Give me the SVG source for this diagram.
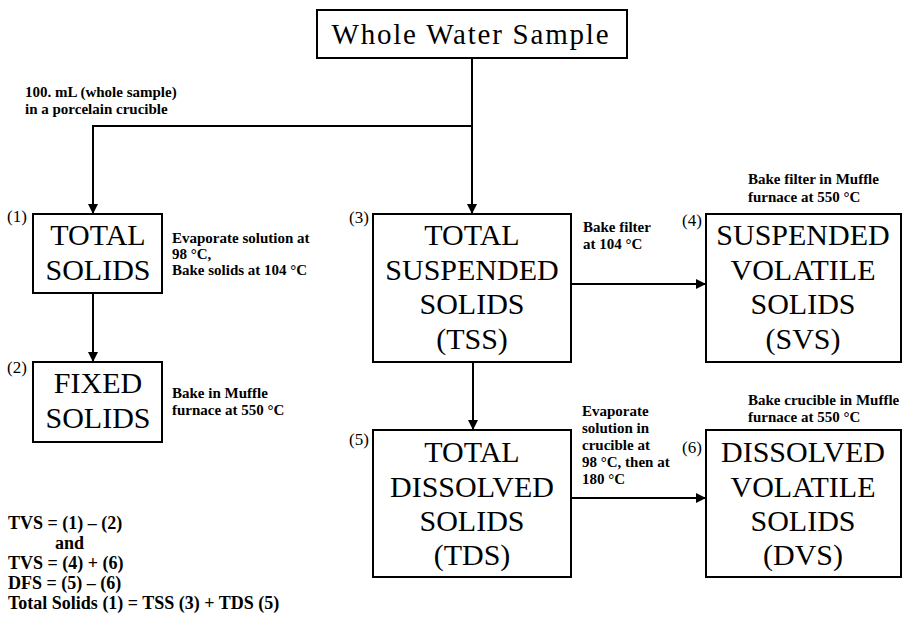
<svg xmlns="http://www.w3.org/2000/svg" width="903" height="617" viewBox="0 0 903 617">
  <style>
    .box { fill: #ffffff; stroke: #000000; stroke-width: 2; }
    .node { font-family: "Liberation Serif", "Times New Roman", serif; font-size: 30px; fill: #000000; text-anchor: middle; }
    .title { font-family: "Liberation Serif", "Times New Roman", serif; font-size: 29px; fill: #000000; text-anchor: middle; }
    .num { font-family: "Liberation Serif", "Times New Roman", serif; font-size: 17px; fill: #000000; }
    .note { font-family: "Liberation Serif", "Times New Roman", serif; font-size: 15px; font-weight: bold; fill: #000000; }
    .eq { font-family: "Liberation Serif", "Times New Roman", serif; font-size: 18px; font-weight: bold; fill: #000000; }
    .wire { fill: none; stroke: #000000; stroke-width: 2; }
  </style>
  <defs>
    <marker id="head" markerUnits="userSpaceOnUse" markerWidth="10" markerHeight="10" refX="10" refY="5" orient="auto">
      <path d="M0,0 L10,5 L0,10 z" fill="#000000"/>
    </marker>
  </defs>

  <rect width="903" height="617" fill="#ffffff"/>

  <!-- connectors -->
  <g id="connectors">
    <path class="wire" d="M472,58 V214" marker-end="url(#head)"/>
    <path class="wire" d="M472,126 H93 V214" marker-end="url(#head)"/>
    <path class="wire" d="M93,293 V362" stroke-width="2.5" marker-end="url(#head)"/>
    <path class="wire" d="M473,362 V430" marker-end="url(#head)"/>
    <path class="wire" d="M571,284 H706" marker-end="url(#head)"/>
    <path class="wire" d="M571,498 H706" marker-end="url(#head)"/>
  </g>

  <!-- process notes -->
  <g id="notes">
    <text class="note" x="25" y="97">100. mL (whole sample)</text>
    <text class="note" x="25" y="114">in a porcelain crucible</text>
    <text class="note" x="172" y="243">Evaporate solution at</text>
    <text class="note" x="172" y="259">98 °C,</text>
    <text class="note" x="172" y="275">Bake solids at  104 °C</text>
    <text class="note" x="172" y="398">Bake in Muffle</text>
    <text class="note" x="172" y="415">furnace at 550 °C</text>
    <text class="note" x="583" y="232">Bake filter</text>
    <text class="note" x="583" y="249">at 104 °C</text>
    <text class="note" x="748" y="184">Bake filter in Muffle</text>
    <text class="note" x="748" y="202">furnace at 550 °C</text>
    <text class="note" x="582" y="416">Evaporate</text>
    <text class="note" x="582" y="433">solution in</text>
    <text class="note" x="582" y="450">crucible at</text>
    <text class="note" x="582" y="467">98 °C, then at</text>
    <text class="note" x="582" y="484">180 °C</text>
    <text class="note" x="748" y="405">Bake crucible in Muffle</text>
    <text class="note" x="748" y="422">furnace at 550 °C</text>
  </g>

  <g id="whole-sample">
    <rect class="box" x="317" y="10" width="310" height="48"/>
    <text class="title" x="470" y="44" textLength="277" lengthAdjust="spacing">Whole Water Sample</text>
  </g>

  <g id="total-solids">
    <text class="num" x="7" y="222">(1)</text>
    <rect class="box" x="33" y="214" width="129" height="79"/>
    <text class="node" x="98" y="245">TOTAL</text>
    <text class="node" x="98" y="280">SOLIDS</text>
  </g>

  <g id="fixed-solids">
    <text class="num" x="7" y="373">(2)</text>
    <rect class="box" x="33" y="362" width="129" height="80"/>
    <text class="node" x="98" y="393">FIXED</text>
    <text class="node" x="98" y="428">SOLIDS</text>
  </g>

  <g id="tss">
    <text class="num" x="349" y="223">(3)</text>
    <rect class="box" x="373" y="214" width="198" height="148"/>
    <text class="node" x="472" y="245">TOTAL</text>
    <text class="node" x="472" y="280">SUSPENDED</text>
    <text class="node" x="472" y="314">SOLIDS</text>
    <text class="node" x="472" y="349">(TSS)</text>
  </g>

  <g id="svs">
    <text class="num" x="682" y="226">(4)</text>
    <rect class="box" x="706" y="214" width="195" height="148"/>
    <text class="node" x="803" y="245">SUSPENDED</text>
    <text class="node" x="803" y="280">VOLATILE</text>
    <text class="node" x="803" y="314">SOLIDS</text>
    <text class="node" x="803" y="349">(SVS)</text>
  </g>

  <g id="tds">
    <text class="num" x="349" y="445">(5)</text>
    <rect class="box" x="373" y="430" width="198" height="147"/>
    <text class="node" x="472" y="462">TOTAL</text>
    <text class="node" x="472" y="497">DISSOLVED</text>
    <text class="node" x="472" y="531">SOLIDS</text>
    <text class="node" x="472" y="565">(TDS)</text>
  </g>

  <g id="dvs">
    <text class="num" x="682" y="453">(6)</text>
    <rect class="box" x="706" y="430" width="195" height="147"/>
    <text class="node" x="803" y="462">DISSOLVED</text>
    <text class="node" x="803" y="497">VOLATILE</text>
    <text class="node" x="803" y="531">SOLIDS</text>
    <text class="node" x="803" y="565">(DVS)</text>
  </g>

  <!-- relations between the measured fractions -->
  <g id="equations">
    <text class="eq" x="8" y="529">TVS = (1) – (2)</text>
    <text class="eq" x="55" y="549">and</text>
    <text class="eq" x="8" y="569">TVS = (4) + (6)</text>
    <text class="eq" x="8" y="589">DFS = (5) – (6)</text>
    <text class="eq" x="8" y="609">Total Solids (1) = TSS (3) + TDS (5)</text>
  </g>
</svg>
